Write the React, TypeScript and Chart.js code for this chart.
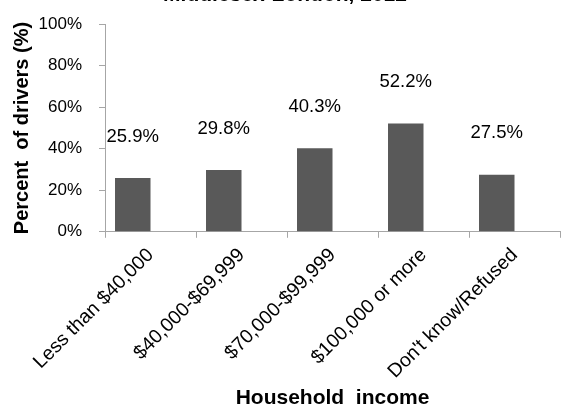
import React, { useEffect, useRef } from "react";
import { Chart, registerables } from "chart.js";

Chart.register(...registerables);

const titleText = "Middlesex-London, 2012";
const categories = [
  "Less than $40,000",
  "$40,000-$69,999",
  "$70,000-$99,999",
  "$100,000 or more",
  "Don't know/Refused",
];
const percentDrivers = [25.9, 29.8, 40.3, 52.2, 27.5];
const emptySeries = [null, null, null, null, null];
const yTicks = [0, 20, 40, 60, 80, 100];

const FONT = "'Liberation Sans', Arial, sans-serif";
const TOP_CLIP = 17;

const labelPlugin = {
  id: "barLabels",
  afterDatasetsDraw(chart: any) {
    const { ctx } = chart;
    const meta = chart.getDatasetMeta(0);
    const y = chart.scales.y;
    ctx.save();
    ctx.font = `18.5px ${FONT}`;
    ctx.fillStyle = "#000";
    ctx.textAlign = "center";
    ctx.textBaseline = "middle";
    meta.data.forEach((bar: any, i: number) => {
      const v = percentDrivers[i];
      const level = Math.max(v + 20, 40);
      ctx.fillText(v.toFixed(1) + "%", bar.x, y.getPixelForValue(level));
    });
    ctx.restore();
  },
};

export default function App() {
  const ref = useRef<HTMLCanvasElement>(null);
  useEffect(() => {
    if (!ref.current) return;
    const chart = new Chart(ref.current, {
      type: "bar",
      data: {
        labels: categories,
        datasets: [
          {
            data: percentDrivers,
            backgroundColor: "#595959",
            borderWidth: 0,
            categoryPercentage: 0.78,
            barPercentage: 1.0,
          },
          {
            data: emptySeries as any,
            backgroundColor: "#595959",
            categoryPercentage: 0.78,
            barPercentage: 1.0,
          },
        ],
      },
      options: {
        animation: false,
        responsive: true,
        maintainAspectRatio: false,
        layout: { padding: { left: 10, right: 1, top: 0, bottom: 0 } },
        plugins: {
          legend: { display: false },
          tooltip: { enabled: false },
          title: {
            display: true,
            text: titleText,
            color: "#000",
            font: { family: FONT, size: 21, weight: "bold" },
            padding: { top: 0, bottom: 16 },
          },
        },
        scales: {
          x: {
            offset: true,
            afterFit: (s: any) => {
              s.paddingLeft = 0;
              s.paddingRight = 0;
            },
            grid: {
              offset: true,
              drawOnChartArea: false,
              tickLength: 6,
              color: "#a6a6a6",
            },
            border: { color: "#a6a6a6" },
            ticks: {
              color: "#000",
              font: { family: FONT, size: 19.5 },
              minRotation: 45,
              maxRotation: 45,
              padding: 6,
            },
            title: {
              display: true,
              text: "Household  income",
              color: "#000",
              font: { family: FONT, size: 21, weight: "bold", lineHeight: 0.7 },
              padding: { top: 2, bottom: 0 },
            },
          },
          y: {
            min: 0,
            max: 100,
            afterBuildTicks: (axis: any) => {
              axis.ticks = yTicks.map((v) => ({ value: v }));
            },
            afterFit: (s: any) => {
              s.width = 95;
            },
            grid: {
              drawOnChartArea: false,
              tickLength: 6,
              color: "#a6a6a6",
            },
            border: { color: "#a6a6a6" },
            ticks: {
              color: "#000",
              font: { family: FONT, size: 17 },
              padding: 17,
              callback: (v: any) => v + "%",
            },
            title: {
              display: true,
              text: "Percent  of drivers (%)",
              color: "#000",
              font: { family: FONT, size: 20, weight: "bold" },
              padding: { top: 0, bottom: 5 },
            },
          },
        },
      },
      plugins: [labelPlugin],
    });
    return () => chart.destroy();
  }, []);
  return (
    <div
      style={{
        position: "fixed",
        left: 0,
        top: -TOP_CLIP,
        width: 561,
        height: 406 + TOP_CLIP,
        background: "#fff",
      }}
    >
      <canvas ref={ref} />
    </div>
  );
}
